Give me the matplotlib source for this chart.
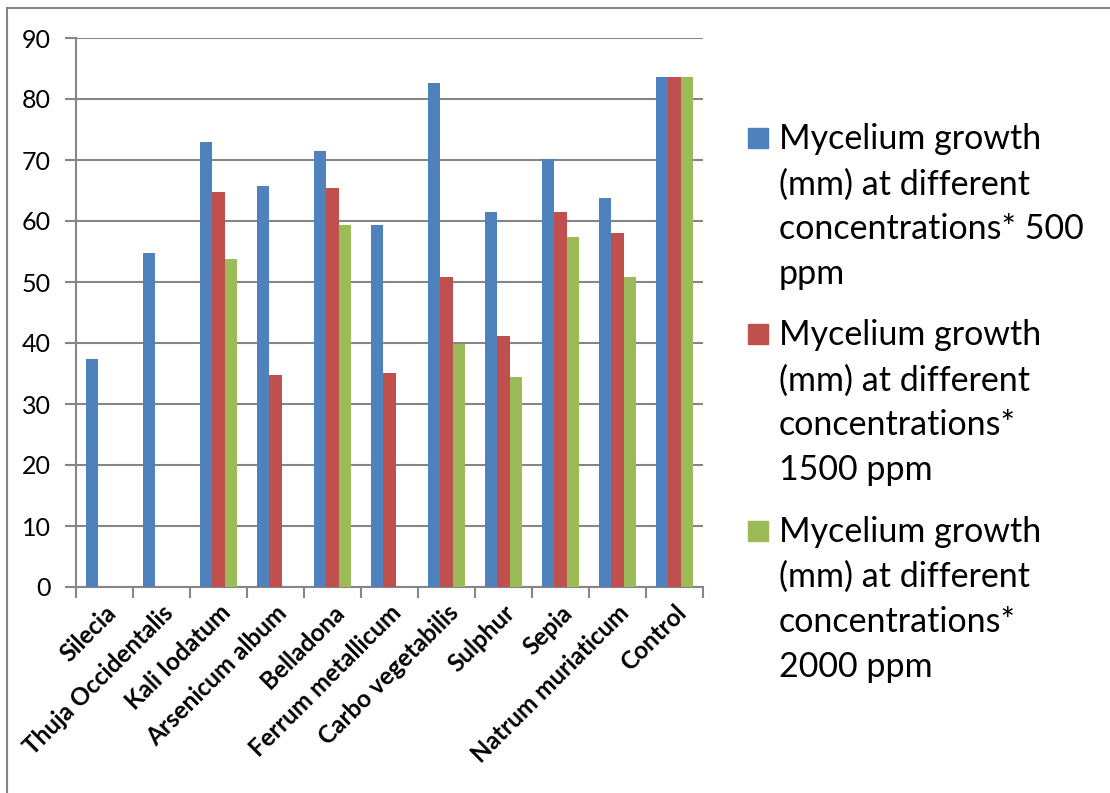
import numpy as np
import matplotlib.pyplot as plt
from matplotlib.patches import Rectangle

plt.rcParams['font.family'] = ['Lato', 'DejaVu Sans']

categories = ['Silecia', 'Thuja Occidentalis', 'Kali Iodatum', 'Arsenicum album',
              'Belladona', 'Ferrum metallicum', 'Carbo vegetabilis', 'Sulphur',
              'Sepia', 'Natrum muriaticum', 'Control']
ppm500 = [37.4, 54.7, 73.0, 65.7, 71.4, 59.4, 82.7, 61.4, 70.1, 63.7, 83.6]
ppm1500 = [np.nan, np.nan, 64.7, 34.8, 65.4, 35.1, 50.8, 41.1, 61.4, 58.1, 83.6]
ppm2000 = [np.nan, np.nan, 53.8, np.nan, 59.4, np.nan, 39.8, 34.4, 57.4, 50.8, 83.6]
labels = ['Mycelium growth\n(mm) at different\nconcentrations* 500\nppm',
          'Mycelium growth\n(mm) at different\nconcentrations*\n1500 ppm',
          'Mycelium growth\n(mm) at different\nconcentrations*\n2000 ppm']
colors = ['#4F81BD', '#C0504D', '#9BBB59']
grid_c = '#868686'

fig = plt.figure(figsize=(11.1, 7.93), dpi=100)
ax = fig.add_axes([76/1110, 1-587/793, (703-76)/1110, (587-38)/793])

x = np.arange(len(categories))
w = 0.22
for i, (vals, c) in enumerate(zip([ppm500, ppm1500, ppm2000], colors)):
    ax.bar(x + (i-1)*w, vals, width=w, color=c, edgecolor='none', zorder=3)

ax.set_xlim(-0.5, len(categories)-0.5)
ax.set_ylim(0, 90)
ax.set_yticks(range(0, 91, 10))
ax.yaxis.grid(True, color=grid_c, linewidth=1.5, zorder=0)
for s in ['top', 'right']:
    ax.spines[s].set_visible(False)
for s in ['left', 'bottom']:
    ax.spines[s].set_color(grid_c)
    ax.spines[s].set_linewidth(1.5)
ax.tick_params(axis='y', length=8, width=1.5, color=grid_c, labelsize=18, pad=10)
ax.set_xticks(np.arange(-0.5, len(categories)), minor=False)
ax.set_xticklabels([])
ax.set_xticks(x, minor=True)
ax.set_xticklabels(categories, minor=True, rotation=45, ha='right',
                   rotation_mode='anchor', fontsize=17.5, fontweight='bold')
ax.tick_params(axis='x', which='major', length=8, width=1.5, color=grid_c)
ax.tick_params(axis='x', which='minor', length=0, pad=10)

# outer chart frame
fig.patches.append(Rectangle((7/1110, -0.1), 1.2, 1-8/793+0.1,
                             transform=fig.transFigure, fill=False,
                             edgecolor=grid_c, linewidth=1.5))

# legend
tops = [128, 324, 521]
for lab, c, t in zip(labels, colors, tops):
    fig.patches.append(Rectangle((748/1110, 1-(t+20)/793), 20/1110, 20/793,
                                 transform=fig.transFigure, color=c))
    fig.text(779/1110, 1-(t-5)/793, lab, fontsize=24.5, va='top', ha='left',
             linespacing=1.5)

fig.savefig('out.png', dpi=100)
